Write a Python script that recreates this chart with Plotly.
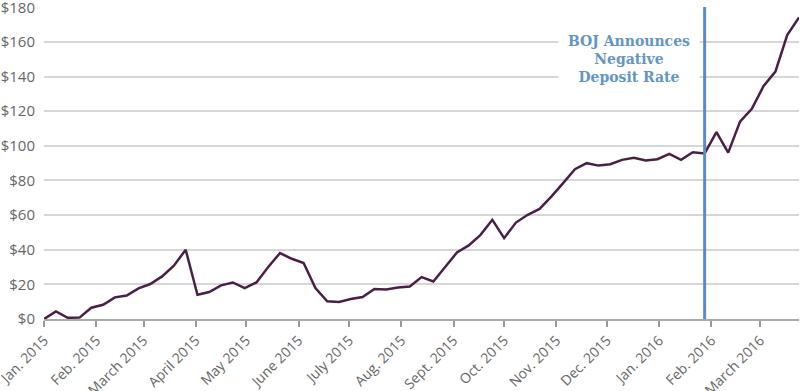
import pandas as pd
import plotly.graph_objects as go

# ---- data ----
start_date = "2015-01-01"
n_weeks = 65
values = [0, 4.4, 0.7, 0.8, 6.5, 8.2, 12.5, 13.6, 17.7, 20.2,
          24.6, 30.8, 40, 14, 15.6, 19.4, 21.1, 17.9, 21.1, 30,
          38.1, 34.8, 32.3, 17.9, 10.2, 9.8, 11.5, 12.7, 17.3, 17.1,
          18.2, 18.8, 24.2, 21.7, 30, 38.4, 42.5, 48.6, 57.3, 46.7,
          55.7, 60.2, 63.6, 70.7, 78.5, 86.5, 90, 88.6, 89.4, 91.9,
          93.1, 91.5, 92.3, 95.4, 91.9, 96.3, 95.6, 107.9, 96.1, 114,
          121.4, 134.6, 142.9, 164, 174.2]
dates = pd.date_range(start_date, periods=n_weeks, freq="7D")

tick_dates = ["2015-01-01", "2015-02-01", "2015-03-01", "2015-04-01", "2015-05-01",
              "2015-06-01", "2015-07-01", "2015-08-01", "2015-09-01", "2015-10-01",
              "2015-11-01", "2015-12-01", "2016-01-01", "2016-02-01", "2016-03-01"]
tick_labels = ["Jan. 2015", "Feb. 2015", "March 2015", "April 2015", "May 2015",
               "June 2015", "July 2015", "Aug. 2015", "Sept. 2015", "Oct. 2015",
               "Nov. 2015", "Dec. 2015", "Jan. 2016", "Feb. 2016", "March 2016"]
y_ticks = [0, 20, 40, 60, 80, 100, 120, 140, 160, 180]
y_labels = ["$" + str(v) for v in y_ticks]

event_date = "2016-01-28"
event_text = "BOJ Announces<br>Negative<br>Deposit Rate"
annot_date = "2015-12-14"
annot_value = 150

fig = go.Figure()
fig.add_trace(go.Scatter(x=dates, y=values, mode="lines",
                         line=dict(color="#4a1f47", width=2.5),
                         showlegend=False, hoverinfo="skip"))

fig.add_shape(type="line", xref="x", yref="paper", x0=event_date, x1=event_date,
              y0=0, y1=1, line=dict(color="#5b8cc0", width=3), layer="above")

fig.add_annotation(x=annot_date, y=annot_value, xref="x", yref="y",
                   text=event_text, showarrow=False,
                   font=dict(family="DejaVu Serif", size=14, color="#6394c6", weight="bold"),
                   bgcolor="white", width=138, height=72, align="center",
                   xanchor="center", yanchor="middle")

fig.update_layout(
    width=800, height=391,
    margin=dict(l=44, r=1, t=7, b=72),
    paper_bgcolor="white", plot_bgcolor="white",
    font=dict(family="Open Sans", size=14, color="#666666"),
    xaxis=dict(type="date", range=["2014-12-31 22:00", "2016-03-24"],
               tickvals=tick_dates, ticktext=tick_labels, tickangle=-45,
               ticks="outside", ticklen=6, tickwidth=1.5, tickcolor="#999999",
               showgrid=False, showline=True, linecolor="#aaaaaa", linewidth=1.5,
               zeroline=False, tickfont=dict(size=14), automargin=False,
               ticklabeloverflow="allow"),
    yaxis=dict(range=[0, 180.2], tickvals=y_ticks, ticktext=y_labels,
               showgrid=True, gridcolor="#d6d6d6", gridwidth=1.5,
               zeroline=False, showline=False, ticks="",
               ticklabelstandoff=8, tickfont=dict(size=15), automargin=False,
               ticklabeloverflow="allow"),
)

fig.write_html("out.html", config={"displayModeBar": False},
               post_script="document.body.style.margin='0';document.body.style.padding='0';")
